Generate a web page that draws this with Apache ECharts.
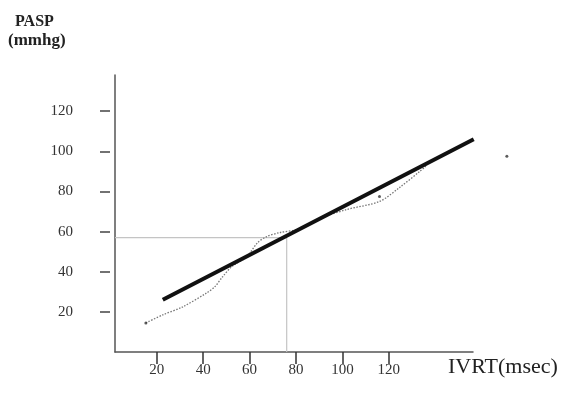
<!DOCTYPE html>
<html>
<head>
<meta charset="utf-8">
<script src="https://cdn.jsdelivr.net/npm/echarts@6/dist/echarts.min.js"></script>
<style>html,body{margin:0;padding:0;background:#fff}#c{width:565px;height:397px}</style>
</head>
<body>
<div id="c"></div>
<script>
// Tick values
const xTicks = [20, 40, 60, 80, 100, 120];
const yTicks = [20, 40, 60, 80, 100, 120];
// Regression (thick) line endpoints
const fitLine = [[22.6, 26], [156.6, 106]];
// Observed (dotted) curve
const observed = [[15.3, 14.5], [22.6, 18.5], [31.2, 22.5], [41.6, 29.5], [45, 32.5], [48.4, 37.5],
  [52.3, 42.5], [58.8, 47.5], [63.5, 54.5], [67.4, 57.5], [73, 59.5], [80.3, 61], [91.5, 67],
  [101.9, 71], [116, 75], [124.7, 82], [133.4, 90], [136, 92.5]];
// Small point markers on the dotted curve
const markers = [[15.3, 14.5], [116, 77.5]];
// Reference guide (IVRT ~76 -> PASP ~57)
const guide = [[2, 57], [76, 57], [76, 0]];
// Stray dot
const stray = [[170.9, 97.5]];

const serif = 'Liberation Serif';
const chart = echarts.init(document.getElementById('c'));
chart.setOption({
  animation: false,
  backgroundColor: '#fff',
  grid: { left: 115, right: 92, top: 75, bottom: 45 },
  xAxis: {
    type: 'value', min: 2, max: 156.3,
    axisLine: { show: true, lineStyle: { color: '#555', width: 1.5 } },
    axisTick: { show: true, customValues: xTicks, length: 12, lineStyle: { color: '#333', width: 1.5 } },
    axisLabel: { customValues: xTicks, margin: 11, color: '#333', fontFamily: serif, fontSize: 15 },
    splitLine: { show: false }
  },
  yAxis: [{
    type: 'value', min: 0, max: 138,
    axisLine: { show: true, lineStyle: { color: '#555', width: 1.5 } },
    axisTick: { show: false }, axisLabel: { show: false }, splitLine: { show: false }
  }, {
    type: 'value', min: 0, max: 138, position: 'left', offset: 5,
    axisLine: { show: false },
    axisTick: { show: true, customValues: yTicks, length: 10, lineStyle: { color: '#444', width: 1.5 } },
    axisLabel: { customValues: yTicks, margin: 37, color: '#333', fontFamily: serif, fontSize: 15 },
    splitLine: { show: false }
  }],
  series: [
    { type: 'line', data: guide, symbol: 'none', lineStyle: { color: '#c4c4c4', width: 1.2 }, z: 1 },
    { type: 'line', data: observed, symbol: 'none', smooth: 0.3,
      lineStyle: { color: '#777', width: 1.3, type: [1.5, 1.5] }, z: 2 },
    { type: 'scatter', data: markers, symbolSize: 3, itemStyle: { color: '#333' }, z: 3 },
    { type: 'line', data: fitLine, symbol: 'none', clip: false, lineStyle: { color: '#111', width: 4 }, z: 4 },
    { type: 'scatter', data: stray, clip: false, symbolSize: 3, itemStyle: { color: '#333' } }
  ],
  graphic: [
    { type: 'text', left: 15, top: 14, style: { text: 'PASP', font: 'bold 16px "Liberation Serif"', fill: '#222' } },
    { type: 'text', left: 8, top: 32, style: { text: '(mmhg)', font: 'bold 17px "Liberation Serif"', fill: '#222' } },
    { type: 'text', left: 448, top: 356, style: { text: 'IVRT(msec)', font: '22px "Liberation Serif"', fill: '#222' } }
  ]
});
</script>
</body>
</html>
